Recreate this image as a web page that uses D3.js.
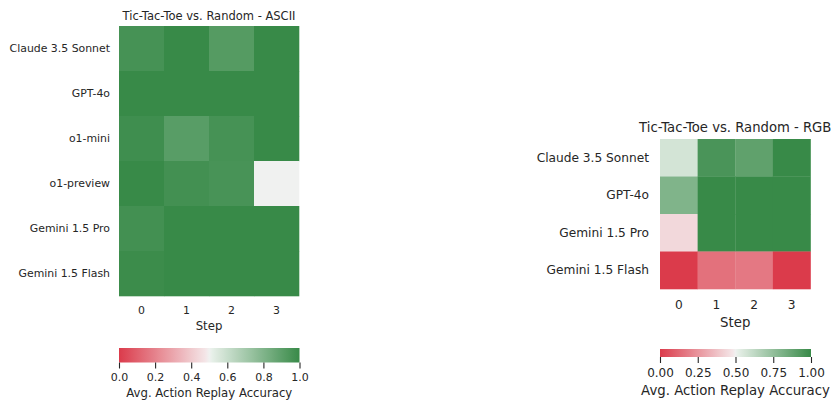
<!DOCTYPE html>
<html><head><meta charset="utf-8">
<script src="https://cdn.jsdelivr.net/npm/d3@7"></script>
<style>
body{margin:0;background:#fff;}
svg text{font-family:"DejaVu Sans",sans-serif;fill:#262626;}
</style></head>
<body><svg id="c" width="834" height="401"></svg>
<script>
const steps = ["0","1","2","3"];
const modelsAscii = ["Claude 3.5 Sonnet","GPT-4o","o1-mini","o1-preview","Gemini 1.5 Pro","Gemini 1.5 Flash"];
const valuesAscii = [
  [0.96,1.00,0.92,1.00],
  [1.00,1.00,1.00,1.00],
  [0.98,0.91,0.96,1.00],
  [1.00,0.97,0.955,0.50],
  [0.97,1.00,1.00,1.00],
  [0.99,1.00,1.00,1.00]
];
const modelsRgb = ["Claude 3.5 Sonnet","GPT-4o","Gemini 1.5 Pro","Gemini 1.5 Flash"];
const valuesRgb = [
  [0.57,0.95,0.89,1.00],
  [0.80,1.00,1.00,1.00],
  [0.44,1.00,1.00,1.00],
  [0.00,0.15,0.17,0.00]
];
const cbTicksAscii = [0,0.2,0.4,0.6,0.8,1.0];
const cbTicksRgb = [0,0.25,0.5,0.75,1.0];

// diverging red-light-green map (seaborn diverging_palette-like)
const cmapStops = [0, 0.496, 0.5, 0.504, 1];
const cmapColors = ["#db3b4b","#f5eced","#f0f1f0","#ebf2ec","#388a48"];
const color = d3.scaleLinear().domain(cmapStops).range(cmapColors).interpolate(d3.interpolateRgb).clamp(true);

const svg = d3.select("#c");
const defs = svg.append("defs");

function heatmap(cfg){
  const g = svg.append("g");
  const x = d3.scaleBand().domain(steps).range([cfg.x0, cfg.x1]);
  const y = d3.scaleBand().domain(cfg.models).range([cfg.y0, cfg.y1]);
  cfg.values.forEach((row,i)=>{
    row.forEach((v,j)=>{
      g.append("rect")
        .attr("x", x(steps[j])).attr("y", y(cfg.models[i]))
        .attr("width", x.bandwidth()+0.3).attr("height", y.bandwidth()+0.3)
        .attr("fill", color(v));
    });
  });
  // title
  g.append("text").attr("x",(cfg.x0+cfg.x1)/2).attr("y",cfg.titleY)
    .attr("text-anchor","middle").style("font-size",cfg.titleFs+"px").text(cfg.title);
  // y axis
  const ya = g.append("g").attr("transform",`translate(${cfg.x0},0)`)
    .call(d3.axisLeft(y).tickSize(0).tickPadding(cfg.yPad));
  ya.select(".domain").remove();
  ya.selectAll("text").style("font-size",cfg.labFs+"px").attr("fill","#262626");
  // x axis
  const xa = g.append("g").attr("transform",`translate(0,${cfg.y1})`)
    .call(d3.axisBottom(x).tickSize(0).tickPadding(cfg.xPad));
  xa.select(".domain").remove();
  xa.selectAll("text").style("font-size",cfg.labFs+"px").attr("fill","#262626");
  g.append("text").attr("x",(cfg.x0+cfg.x1)/2).attr("y",cfg.stepY)
    .attr("text-anchor","middle").style("font-size",cfg.axFs+"px").text("Step");
  // colorbar
  const gid = "grad"+cfg.id;
  const grad = defs.append("linearGradient").attr("id",gid).attr("x1","0%").attr("x2","100%");
  d3.range(0,1.0001,0.02).forEach(t=>{
    grad.append("stop").attr("offset",(t*100)+"%").attr("stop-color",color(t));
  });
  g.append("rect").attr("x",cfg.x0).attr("y",cfg.cbY).attr("width",cfg.cbX1-cfg.x0)
    .attr("height",cfg.cbH).attr("fill",`url(#${gid})`);
  const cs = d3.scaleLinear().domain([0,1]).range([cfg.x0,cfg.cbX1]);
  const ca = g.append("g").attr("transform",`translate(0,${cfg.cbY+cfg.cbH})`)
    .call(d3.axisBottom(cs).tickValues(cfg.cbTicks).tickFormat(d3.format(cfg.cbFmt)).tickSize(6).tickPadding(cfg.cbPad));
  ca.select(".domain").remove();
  ca.selectAll("line").attr("stroke","#262626").attr("stroke-width",1.1);
  ca.selectAll("text").style("font-size",cfg.cbFs+"px").attr("fill","#262626");
  g.append("text").attr("x",(cfg.x0+cfg.cbX1)/2).attr("y",cfg.cbLabY)
    .attr("text-anchor","middle").style("font-size",cfg.axFs+"px").text("Avg. Action Replay Accuracy");
}

heatmap({id:"a", models:modelsAscii, values:valuesAscii, title:"Tic-Tac-Toe vs. Random - ASCII",
  x0:119, x1:299, y0:26, y1:296, titleY:20, titleFs:11.5, labFs:10.9, axFs:11.7, yPad:9, xPad:10,
  stepY:329.5, cbY:348, cbH:14.5, cbX1:299.5, cbTicks:cbTicksAscii, cbFmt:".1f", cbPad:4.5, cbFs:11, cbLabY:396.5});

heatmap({id:"b", models:modelsRgb, values:valuesRgb, title:"Tic-Tac-Toe vs. Random - RGB",
  x0:660, x1:810.5, y0:139, y1:289, titleY:131.5, titleFs:13.2, labFs:12.2, axFs:13.3, yPad:11, xPad:11.5,
  stepY:326.5, cbY:349, cbH:8, cbX1:811, cbTicks:cbTicksRgb, cbFmt:".2f", cbPad:5, cbFs:12, cbLabY:394.5});
</script></body></html>
